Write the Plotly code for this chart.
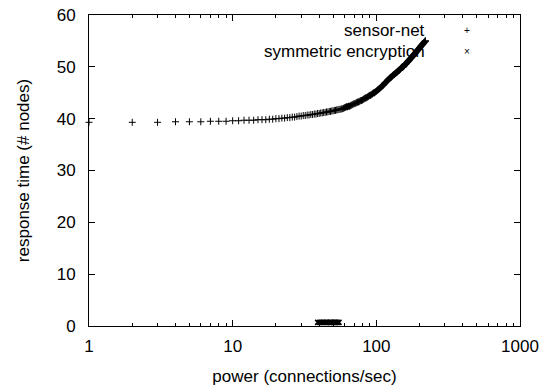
import plotly.graph_objects as go

# sensor-net: x = 1..220 connections/sec
sensor_x = list(range(1, 221))
sensor_y = [
    39.3, 39.3, 39.3, 39.4, 39.4, 39.4, 39.5, 39.5, 39.5, 39.6,
    39.6, 39.7, 39.7, 39.7, 39.8, 39.8, 39.8, 39.9, 39.9, 40.0,
    40.0, 40.1, 40.1, 40.2, 40.2, 40.3, 40.3, 40.4, 40.5, 40.5,
    40.6, 40.6, 40.7, 40.7, 40.8, 40.8, 40.9, 40.9, 41.0, 41.0,
    41.1, 41.1, 41.2, 41.2, 41.3, 41.3, 41.4, 41.4, 41.5, 41.5,
    41.6, 41.6, 41.7, 41.7, 41.8, 41.8, 41.9, 41.9, 42.0, 42.1,
    42.2, 42.3, 42.3, 42.4, 42.4, 42.5, 42.6, 42.7, 42.8, 42.9,
    42.9, 43.0, 43.1, 43.2, 43.2, 43.3, 43.4, 43.5, 43.5, 43.6,
    43.7, 43.8, 43.9, 44.0, 44.0, 44.1, 44.2, 44.3, 44.4, 44.5,
    44.5, 44.6, 44.7, 44.8, 44.9, 45.0, 45.0, 45.1, 45.2, 45.3,
    45.4, 45.5, 45.6, 45.7, 45.8, 45.9, 46.0, 46.1, 46.2, 46.3,
    46.4, 46.5, 46.6, 46.8, 46.9, 47.0, 47.1, 47.2, 47.3, 47.4,
    47.5, 47.6, 47.7, 47.8, 47.9, 48.0, 48.0, 48.1, 48.2, 48.3,
    48.4, 48.5, 48.5, 48.6, 48.7, 48.8, 48.8, 48.9, 49.0, 49.0,
    49.1, 49.2, 49.3, 49.3, 49.4, 49.5, 49.6, 49.7, 49.8, 49.9,
    49.9, 50.0, 50.0, 50.0, 50.1, 50.2, 50.3, 50.4, 50.5, 50.5,
    50.6, 50.7, 50.8, 50.9, 50.9, 51.0, 51.1, 51.2, 51.3, 51.3,
    51.4, 51.5, 51.6, 51.7, 51.7, 51.8, 51.9, 52.0, 52.1, 52.2,
    52.2, 52.3, 52.4, 52.5, 52.5, 52.6, 52.7, 52.7, 52.8, 52.9,
    53.0, 53.1, 53.1, 53.2, 53.3, 53.4, 53.4, 53.5, 53.6, 53.7,
    53.7, 53.8, 53.9, 54.0, 54.0, 54.1, 54.2, 54.2, 54.3, 54.4,
    54.4, 54.5, 54.6, 54.6, 54.7, 54.8, 54.8, 54.9, 55.0, 55.0,
]

# symmetric encryption
sym_x = [39, 40, 41, 42, 43, 44, 45, 46, 47, 48, 49, 50, 51, 52, 53, 54, 55]
sym_y = [0.7, 0.7, 0.7, 0.7, 0.7, 0.7, 0.7, 0.7, 0.7, 0.7, 0.7, 0.7, 0.7, 0.7, 0.7, 0.7, 0.7]

x_tickvals = [1, 10, 100, 1000]
x_ticktext = ["1", "10", "100", "1000"]
x_minor_ticks = [2, 3, 4, 5, 6, 7, 8, 9, 20, 30, 40, 50, 60, 70, 80, 90,
                 200, 300, 400, 500, 600, 700, 800, 900]
y_tickvals = [0, 10, 20, 30, 40, 50, 60]

FONT = "Liberation Sans, Arial, sans-serif"
FS = 17

fig = go.Figure()
fig.add_trace(go.Scatter(
    x=sensor_x, y=sensor_y, mode="markers", name="sensor-net",
    marker=dict(symbol="cross-thin", size=5, line=dict(color="black", width=1), color="black"),
    cliponaxis=False, showlegend=False,
))
fig.add_trace(go.Scatter(
    x=sym_x, y=sym_y, mode="markers", name="symmetric encryption",
    marker=dict(symbol="x-thin", size=5, line=dict(color="black", width=1.5), color="black"),
    cliponaxis=False, showlegend=False,
))

axis_common = dict(
    showline=True, linecolor="black", linewidth=1, mirror="allticks",
    ticks="inside", tickcolor="black", ticklen=6, tickwidth=1,
    showgrid=False, zeroline=False, automargin=False,
    tickfont=dict(family=FONT, size=FS, color="black"),
)

fig.update_xaxes(
    type="log", range=[0, 3], tickvals=x_tickvals, ticktext=x_ticktext,
    minor=dict(tickvals=x_minor_ticks, ticks="inside", ticklen=3,
               tickcolor="black", tickwidth=1, showgrid=False),
    title=dict(text="power (connections/sec)", font=dict(family=FONT, size=FS, color="black"), standoff=14),
    ticklabelstandoff=5,
    **axis_common,
)
fig.update_yaxes(
    range=[0, 60], tickvals=y_tickvals,
    title=dict(text="response time (# nodes)", font=dict(family=FONT, size=FS, color="black"), standoff=22),
    ticklabelstandoff=9,
    **axis_common,
)

# gnuplot-style key: label right-aligned, sample to the right
key_rows = [("sensor-net", "+", 57.0), ("symmetric encryption", "×", 52.9)]
for label, sym, yv in key_rows:
    fig.add_annotation(x=0.785, y=yv, xref="paper", yref="y", text=label, showarrow=False,
                       xanchor="right", yanchor="middle",
                       font=dict(family=FONT, size=FS, color="black"))
    fig.add_annotation(x=0.876, y=yv, xref="paper", yref="y", text=sym, showarrow=False,
                       xanchor="center", yanchor="middle",
                       font=dict(family=FONT, size=10, color="black"))

fig.update_layout(
    width=548, height=391,
    margin=dict(l=89, r=28, t=15, b=65),
    paper_bgcolor="white", plot_bgcolor="white",
    font=dict(family=FONT, size=FS, color="black"),
)

fig.write_html("out.html")
